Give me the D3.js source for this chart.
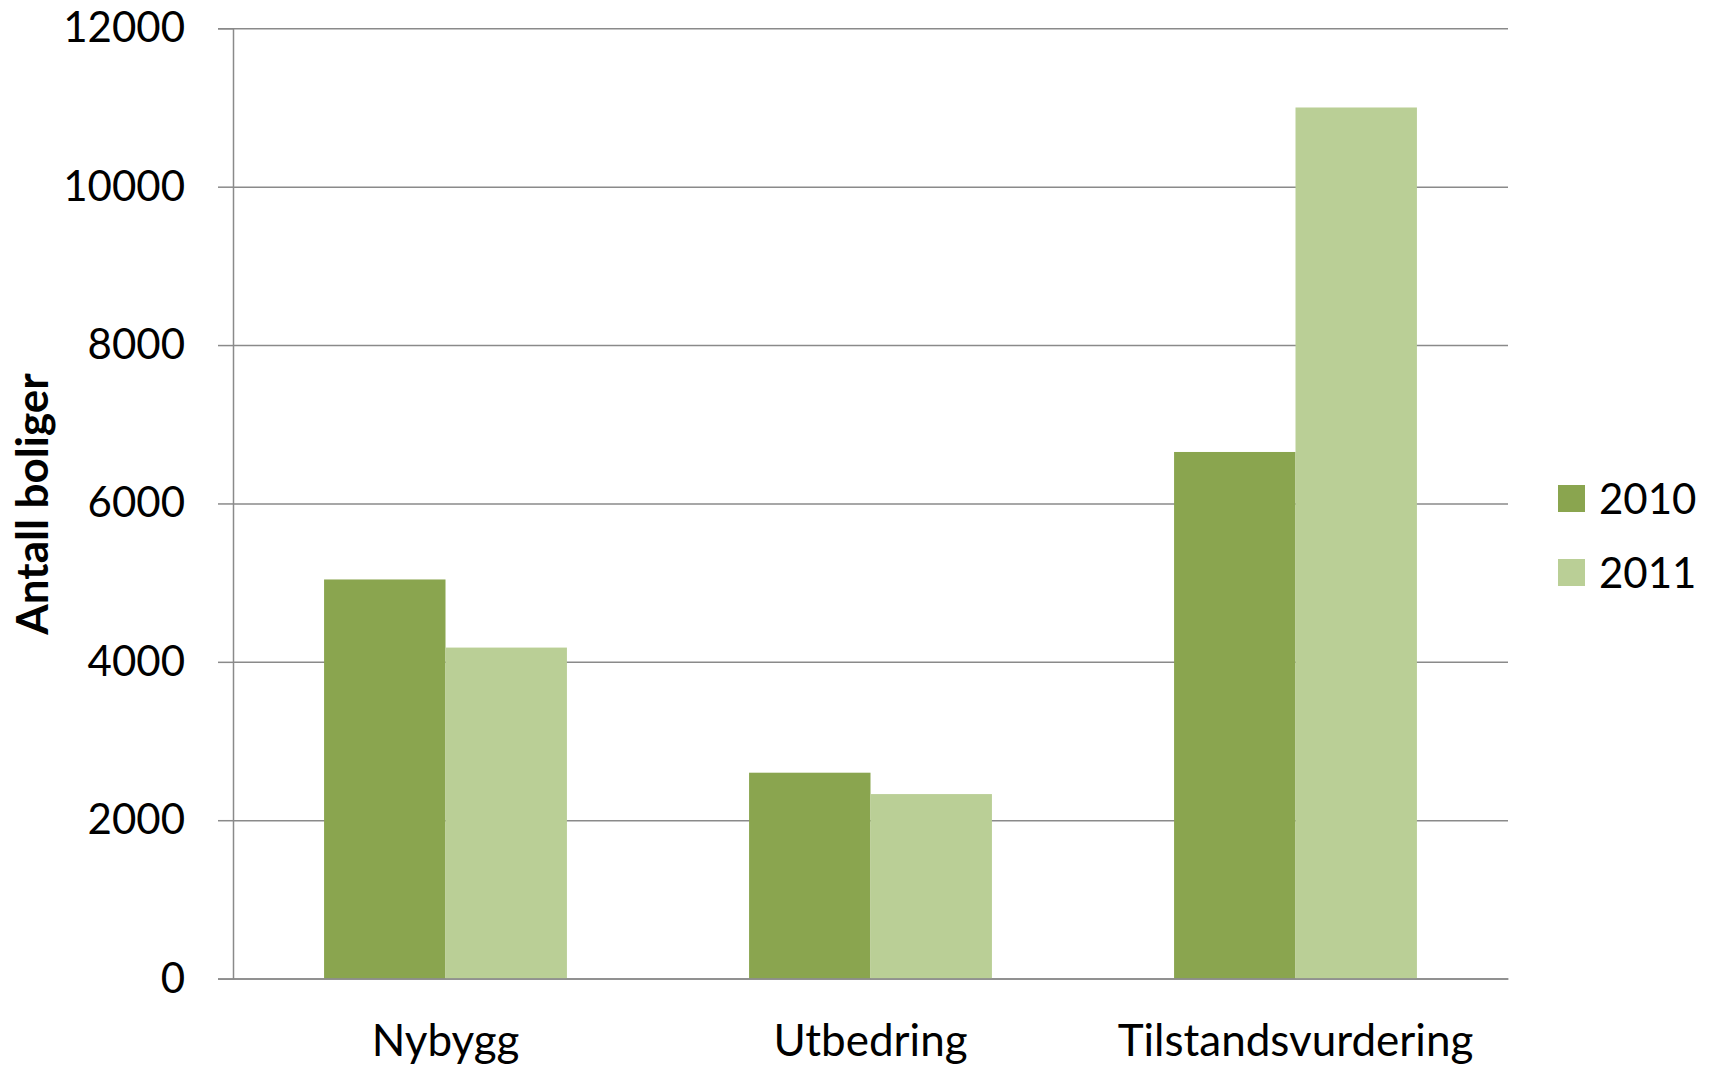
<!DOCTYPE html>
<html>
<head>
<meta charset="utf-8">
<script src="https://cdn.jsdelivr.net/npm/d3@7"></script>
<style>
  html, body { margin: 0; padding: 0; background: #fff; }
  svg { display: block; }
  text { font-family: Lato, "Open Sans", sans-serif; fill: #000; }
</style>
</head>
<body>
<svg id="chart" width="1711" height="1067"></svg>
<script>
const categories = ["Nybygg", "Utbedring", "Tilstandsvurdering"];
const seriesNames = ["2010", "2011"];
const values2010 = [5040, 2600, 6650];
const values2011 = [4180, 2330, 11000];
const yTicks = [0, 2000, 4000, 6000, 8000, 10000, 12000];
const colors = ["#8AA54F", "#BACF96"];
const yTitle = "Antall boliger";

const seriesValues = [values2010, values2011];
const svg = d3.select("#chart");

const plotLeft = 233, plotRight = 1508, plotTop = 28.3, plotBottom = 978.6;
const W = plotRight - plotLeft;

const x0 = d3.scaleBand().domain(categories).range([plotLeft, plotRight]).paddingInner(0).paddingOuter(0);
const x1 = d3.scaleBand().domain(seriesNames).range([0, x0.bandwidth()]).paddingInner(0).paddingOuter(0.75);
const y = d3.scaleLinear().domain([0, 12000]).range([plotBottom, plotTop]);

// gridlines
const grid = svg.append("g").attr("transform", `translate(${plotLeft},0)`)
  .call(d3.axisLeft(y).tickValues(yTicks).tickSize(-W).tickFormat(""));
grid.select(".domain").remove();
grid.selectAll(".tick line").attr("stroke", "#8a8a8a").attr("stroke-width", 1.5);

// bars
const groups = svg.append("g").selectAll("g").data(categories).join("g")
  .attr("transform", d => `translate(${x0(d)},0)`);
groups.selectAll("rect")
  .data((c, i) => seriesNames.map((s, j) => ({ s, v: seriesValues[j][i], j })))
  .join("rect")
  .attr("x", d => x1(d.s))
  .attr("width", x1.bandwidth())
  .attr("y", d => y(d.v))
  .attr("height", d => y(0) - y(d.v))
  .attr("fill", d => colors[d.j]);

// y axis with ticks and labels
const yAxis = svg.append("g").attr("transform", `translate(${plotLeft},0)`)
  .call(d3.axisLeft(y).tickValues(yTicks).tickSize(15).tickPadding(33).tickFormat(d3.format("d")));
yAxis.select(".domain").attr("stroke", "#8a8a8a").attr("stroke-width", 1.5);
yAxis.selectAll(".tick line").attr("stroke", "#8a8a8a").attr("stroke-width", 1.5);
yAxis.selectAll(".tick text").style("font-size", "42px").style("font-family", "Lato, sans-serif").attr("fill", "#000");

// x axis baseline
const xAxis = svg.append("g").attr("transform", `translate(0,${plotBottom})`)
  .call(d3.axisBottom(x0).tickSize(0).tickPadding(46));
xAxis.select(".domain").attr("stroke", "#8a8a8a").attr("stroke-width", 1.5);
xAxis.selectAll(".tick text").style("font-size", "44px").style("font-family", "Lato, sans-serif").attr("fill", "#000");

// y title
svg.append("text")
  .attr("transform", `translate(48,504) rotate(-90)`)
  .attr("text-anchor", "middle")
  .style("font-size", "44px")
  .style("font-weight", "bold")
  .text(yTitle);

// legend
const legend = svg.append("g").selectAll("g").data(seriesNames).join("g")
  .attr("transform", (d, i) => `translate(1558,${485 + i * 74})`);
legend.append("rect").attr("width", 27).attr("height", 27).attr("fill", (d, i) => colors[i]);
legend.append("text").attr("x", 41).attr("y", 13.5).attr("dy", "0.36em")
  .style("font-size", "42px").text(d => d);
</script>
</body>
</html>
